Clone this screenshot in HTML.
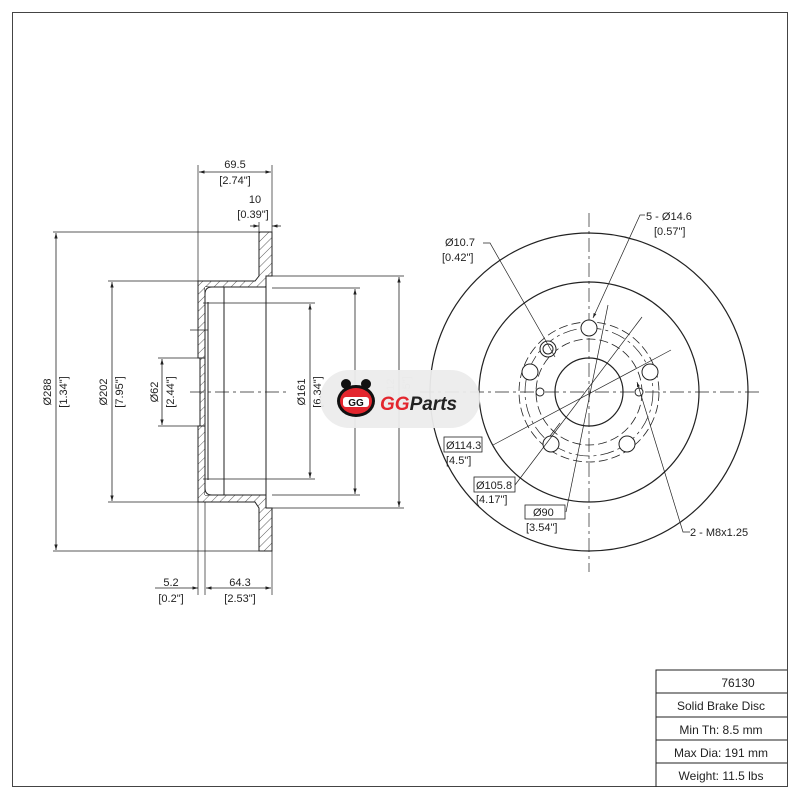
<!DOCTYPE html>
<html><head><style>html,body{margin:0;padding:0;background:#fff}svg{display:block}</style></head>
<body>
<svg width="800" height="800" viewBox="0 0 800 800" xmlns="http://www.w3.org/2000/svg" font-family="'Liberation Sans', sans-serif" font-size="11" fill="#222">
<defs>
<pattern id="h" patternUnits="userSpaceOnUse" width="6" height="6" patternTransform="rotate(45)"><line x1="0" y1="0" x2="0" y2="6" stroke="#333" stroke-width="0.8"/></pattern>
<marker id="a" viewBox="0 0 10 10" refX="10" refY="5" markerWidth="7" markerHeight="7" orient="auto-start-reverse"><path d="M0,2 L10,5 L0,8 z" fill="#222"/></marker>
</defs>
<rect x="12.5" y="12.5" width="775" height="774" fill="none" stroke="#444" stroke-width="1"/>
<g stroke="#222" stroke-width="1" fill="none">
<!-- side view sections -->
<path d="M259,232 H272 V276 H266 V508 H272 V551 H259 V508 L255,502 H198 V426 H200 V358 H198 V281 H255 L259,276 Z" fill="url(#h)"/>
<path d="M205,287 H263 M205,495 H263 M205,287 V358 M205,426 V495" />
<path d="M200,358 V426 M205,358 H198 M205,426 H198"/>
<rect x="205" y="287" width="61" height="208" fill="#fff" stroke="none"/>
<path d="M212,287 H266 M212,495 H266 M212,287 Q205,287 205,294 V488 Q205,495 212,495"/>
<line x1="224" y1="287" x2="224" y2="495"/>
<line x1="266" y1="276" x2="266" y2="508"/>
<line x1="208" y1="302" x2="208" y2="480"/>
<line x1="190" y1="330" x2="208" y2="330" stroke-width="0.7"/>
<line x1="190" y1="392" x2="290" y2="392" stroke-dasharray="14,4,3,4" stroke-width="0.7"/>
<!-- extension lines -->
<path d="M53,232 H259 M53,551 H259 M108,281 H198 M108,502 H198 M158,358 H198 M158,426 H198 M203,303 H315 M203,479 H315 M272,288 H360 M272,495 H360 M272,276 H404 M272,508 H404" stroke-width="0.7"/>
<path d="M198,165 V281 M272,165 V232 M259,222 V232 M198,502 V595 M205,502 V595 M272,551 V595" stroke-width="0.7"/>
<g marker-start="url(#a)" marker-end="url(#a)" stroke-width="0.8">
<line x1="56" y1="233" x2="56" y2="550"/>
<line x1="112" y1="282" x2="112" y2="501"/>
<line x1="162" y1="359" x2="162" y2="425"/>
<line x1="310" y1="304" x2="310" y2="478"/>
<line x1="355" y1="289" x2="355" y2="494"/>
<line x1="399" y1="277" x2="399" y2="507"/>
<line x1="199" y1="172" x2="271" y2="172"/>
<line x1="206" y1="588" x2="271" y2="588"/>
</g>
<line x1="250" y1="226" x2="259" y2="226" marker-end="url(#a)" stroke-width="0.8"/>
<line x1="281" y1="226" x2="272" y2="226" marker-end="url(#a)" stroke-width="0.8"/>
<line x1="155" y1="588" x2="198" y2="588" marker-end="url(#a)" stroke-width="0.8"/>
<!-- front view -->
<circle cx="589" cy="392" r="159" stroke-width="1.2"/>
<circle cx="589" cy="392" r="110" stroke-width="1.2"/>
<circle cx="589" cy="392" r="34" stroke-width="1.2"/>
<circle cx="589" cy="392" r="53" stroke-dasharray="9,4" stroke-width="0.8"/>
<circle cx="589" cy="392" r="64" stroke-dasharray="14,4,3,4" stroke-width="0.7"/>
<circle cx="589" cy="392" r="70" stroke-dasharray="9,4" stroke-width="0.8"/>
<line x1="589" y1="213" x2="589" y2="572" stroke-dasharray="14,4,3,4" stroke-width="0.7"/>
<line x1="420" y1="392" x2="760" y2="392" stroke-dasharray="14,4,3,4" stroke-width="0.7"/>
<g fill="#fff" stroke-width="1">
<circle cx="589" cy="328" r="8"/>
<circle cx="650" cy="372" r="8"/>
<circle cx="627" cy="444" r="8"/>
<circle cx="551" cy="444" r="8"/>
<circle cx="530" cy="372" r="8"/>
<circle cx="548" cy="349" r="8"/>
<circle cx="548" cy="349" r="5"/>
<circle cx="540" cy="392" r="4"/>
<circle cx="639" cy="392" r="4"/>
</g>
<g stroke-width="0.7">
<line x1="493" y1="445" x2="671" y2="350"/>
<line x1="515" y1="485" x2="642" y2="317"/>
<line x1="566" y1="512" x2="608" y2="305"/>
<path d="M483,243 H490 L555,357"/>
<path d="M645,215 H640 L593,318" marker-end="url(#a)"/>
<path d="M690,532 H683 L637,382" marker-end="url(#a)"/>
<line x1="550" y1="436" x2="560" y2="423"/>
</g>
<g stroke-width="0.8">
<rect x="444" y="437" width="38" height="15"/>
<rect x="474" y="477" width="41" height="15"/>
<rect x="525" y="505" width="40" height="14"/>
</g>
<!-- title block -->
<path d="M656,787 V670 H787 M656,693 H787 M656,717 H787 M656,740 H787 M656,763 H787" stroke-width="1"/>
</g>
<!-- side text -->
<g font-size="11" text-anchor="middle">
<text x="235" y="168">69.5</text><text x="235" y="184">[2.74"]</text>
<text x="255" y="203">10</text><text x="253" y="218">[0.39"]</text>
<text x="171" y="586">5.2</text><text x="171" y="602">[0.2"]</text>
<text x="240" y="586">64.3</text><text x="240" y="602">[2.53"]</text>
<text transform="translate(51,392) rotate(-90)">Ø288</text>
<text transform="translate(67,392) rotate(-90)">[1.34"]</text>
<text transform="translate(107,392) rotate(-90)">Ø202</text>
<text transform="translate(123,392) rotate(-90)">[7.95"]</text>
<text transform="translate(158,392) rotate(-90)">Ø62</text>
<text transform="translate(174,392) rotate(-90)">[2.44"]</text>
<text transform="translate(305,392) rotate(-90)">Ø161</text>
<text transform="translate(321,392) rotate(-90)">[6.34"]</text>
<text transform="translate(394,392) rotate(-90)" fill="#bbb">Ø212</text>
<text transform="translate(410,392) rotate(-90)" fill="#bbb">[8.35"]</text>
</g>
<!-- logo -->
<rect x="320" y="370" width="160" height="58" rx="29" fill="#ececec" opacity="0.95"/>
<g>
<circle cx="346" cy="384" r="5" fill="#111"/><circle cx="366" cy="384" r="5" fill="#111"/>
<ellipse cx="356" cy="401" rx="19" ry="16" fill="#111"/>
<ellipse cx="356" cy="401" rx="16" ry="13" fill="#e3262e"/>
<rect x="343" y="397" width="26" height="10" rx="3" fill="#fff"/>
<text x="356" y="406" font-size="10" font-weight="bold" text-anchor="middle" fill="#111">GG</text>
<text x="380" y="410" font-size="19" font-weight="bold" font-style="italic"><tspan fill="#e3262e">GG</tspan><tspan fill="#222">Parts</tspan></text>
</g>
<!-- front text -->
<g font-size="11">
<text x="445" y="246">Ø10.7</text><text x="442" y="261">[0.42"]</text>
<text x="646" y="220">5 - Ø14.6</text><text x="654" y="235">[0.57"]</text>
<text x="446" y="449">Ø114.3</text><text x="446" y="464">[4.5"]</text>
<text x="476" y="489">Ø105.8</text><text x="476" y="503">[4.17"]</text>
<text x="533" y="516">Ø90</text><text x="526" y="531">[3.54"]</text>
<text x="690" y="536">2 - M8x1.25</text>
</g>
<g font-size="12" text-anchor="middle">
<text x="738" y="687">76130</text>
<text x="721" y="710">Solid Brake Disc</text>
<text x="721" y="734">Min Th: 8.5 mm</text>
<text x="721" y="757">Max Dia: 191 mm</text>
<text x="721" y="780">Weight: 11.5 lbs</text>
</g>
</svg>
</body></html>
